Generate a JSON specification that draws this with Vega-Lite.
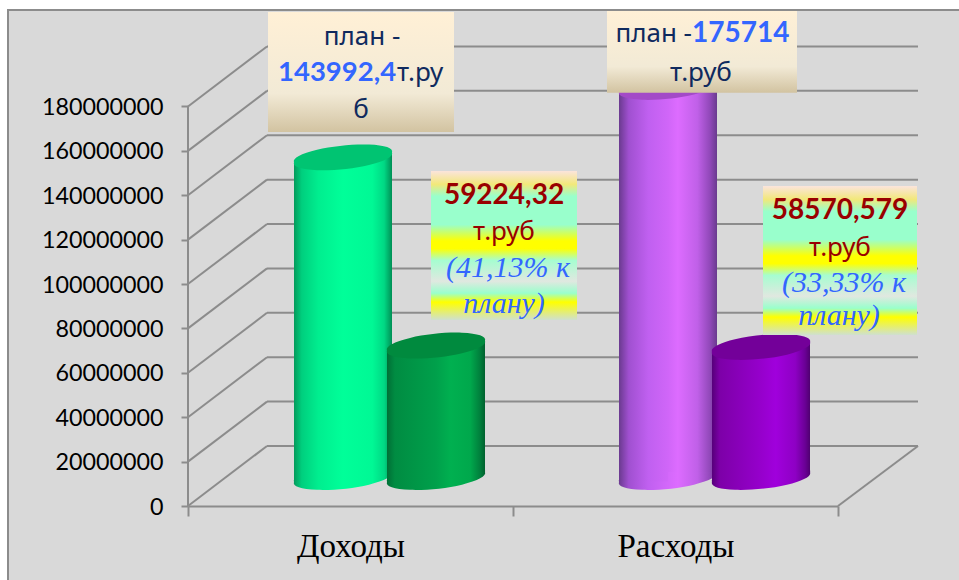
{"$schema":"https://vega.github.io/schema/vega-lite/v6.json","width":650,"height":500,"autosize":"none","padding":{"left":188,"top":6,"right":121,"bottom":74},"background":"#ffffff",
"config":{"view":{"stroke":null},"axisXQuantitative":{"disable":true},"style":{"cell":{"stroke":null}}},
"datasets":{"bars":[{"category":"Доходы","series":"план","value":143992400},{"category":"Доходы","series":"факт","value":59224320},{"category":"Расходы","series":"план","value":175714000},{"category":"Расходы","series":"факт","value":58570579}],
"levels":[{"level":0},{"level":20000000},{"level":40000000},{"level":60000000},{"level":80000000},{"level":100000000},{"level":120000000},{"level":140000000},{"level":160000000},{"level":180000000}]},
"resolve":{"scale":{"x":"independent"}},
"layer":[
{"layer":[
{"data":{"values":[{"part":"panel"}]},"mark":{"type":"rect","fill":"#d9d9d9","stroke":"#8c8c8c","strokeWidth":2},"encoding":{"x":{"datum":-180,"type":"quantitative","scale":{"domain":[0,650],"nice":false,"zero":false}},"x2":{"datum":900},"y":{"datum":223500000,"type":"quantitative","title":null,"scale":{"domain":[0,225250000],"nice":false},"axis":{"values":[0,20000000,40000000,60000000,80000000,100000000,120000000,140000000,160000000,180000000],"title":null,"domain":false,"grid":false,"tickColor":"#8c8c8c","tickWidth":2,"tickSize":7,"labelFont":"Lato","labelFontSize":23.3,"labelColor":"#000000","labelPadding":18,"labelOffset":1,"format":"d","zindex":1}},"y2":{"datum":-50000000}}},
{"data":{"name":"levels"},"mark":{"type":"rule","color":"#8c8c8c","strokeWidth":2,"y2Offset":-60},"encoding":{"x":{"datum":0,"type":"quantitative"},"x2":{"datum":79},"y":{"field":"level","type":"quantitative"},"y2":{"field":"level"}}},
{"data":{"name":"levels"},"mark":{"type":"rule","color":"#8c8c8c","strokeWidth":2,"yOffset":-60},"encoding":{"x":{"datum":79,"type":"quantitative"},"x2":{"datum":730},"y":{"field":"level","type":"quantitative"}}},
{"data":{"values":[{"part":"floor edge"}]},"mark":{"type":"rule","color":"#8c8c8c","strokeWidth":2,"y2Offset":-60},"encoding":{"x":{"datum":650,"type":"quantitative"},"x2":{"datum":730},"y":{"datum":0,"type":"quantitative"},"y2":{"datum":0}}},
{"data":{"values":[{"part":"wall edge"}]},"mark":{"type":"rule","color":"#8c8c8c","strokeWidth":2},"encoding":{"x":{"datum":0,"type":"quantitative"},"y":{"datum":0,"type":"quantitative"},"y2":{"datum":180000000}}}
]},
{"data":{"name":"bars"},"encoding":{"x":{"field":"category","type":"nominal","sort":null,"scale":{"domain":["Доходы","Расходы"],"paddingInner":0,"paddingOuter":0},"axis":{"title":null,"labelAngle":0,"tickBand":"extent","tickColor":"#8c8c8c","tickWidth":2,"tickSize":10,"domainColor":"#8c8c8c","domainWidth":2,"labelFont":"Liberation Serif","labelFontSize":33,"labelColor":"#000000","labelPadding":14,"zindex":1}}},
"layer":[
{"transform":[{"filter":"datum.category==='Доходы' && datum.series==='план'"}],"layer":[
{"mark":{"type":"point","filled":true,"size":9604,"opacity":1,"strokeWidth":0,"xOffset":-7.5,"yOffset":-29,"shape":"M-1,0.1 A1.01,0.22 -6 1 1 1,-0.1 A1.01,0.22 -6 1 1 -1,0.1 Z","fill":{"gradient":"linear","x1":0,"x2":1,"y1":0,"y2":0,"stops":[{"offset":0,"color":"#049a5c"},{"offset":0.08,"color":"#00cf7e"},{"offset":0.25,"color":"#00ee8f"},{"offset":0.5,"color":"#00ff99"},{"offset":0.8,"color":"#00f895"},{"offset":0.92,"color":"#00d884"},{"offset":1,"color":"#008f55"}]}},"encoding":{"y":{"datum":0,"type":"quantitative"}}},
{"mark":{"type":"bar","width":49,"xOffset":-32,"yOffset":-24.5,"y2Offset":-24.5,"fill":{"gradient":"linear","x1":0,"x2":1,"y1":0,"y2":0,"stops":[{"offset":0,"color":"#049a5c"},{"offset":0.16,"color":"#00cf7e"},{"offset":0.5,"color":"#00ee8f"},{"offset":1,"color":"#00ff99"}]}},"encoding":{"y":{"field":"value","type":"quantitative"},"y2":{"datum":0}}},
{"mark":{"type":"bar","width":49,"xOffset":17,"yOffset":-34,"y2Offset":-34,"fill":{"gradient":"linear","x1":0,"x2":1,"y1":0,"y2":0,"stops":[{"offset":0,"color":"#00ff99"},{"offset":0.6,"color":"#00f895"},{"offset":0.84,"color":"#00d884"},{"offset":1,"color":"#008f55"}]}},"encoding":{"y":{"field":"value","type":"quantitative"},"y2":{"datum":0}}},
{"mark":{"type":"point","filled":true,"size":9604,"opacity":1,"strokeWidth":0,"xOffset":-7.5,"yOffset":-29,"shape":"M-1,0.1 A1.01,0.22 -6 1 1 1,-0.1 A1.01,0.22 -6 1 1 -1,0.1 Z","fill":"#00c472"},"encoding":{"y":{"field":"value","type":"quantitative"}}}
]},
{"transform":[{"filter":"datum.category==='Доходы' && datum.series==='факт'"}],"layer":[
{"mark":{"type":"point","filled":true,"size":9604,"opacity":1,"strokeWidth":0,"xOffset":85.5,"yOffset":-29,"shape":"M-1,0.1 A1.01,0.22 -6 1 1 1,-0.1 A1.01,0.22 -6 1 1 -1,0.1 Z","fill":{"gradient":"linear","x1":0,"x2":1,"y1":0,"y2":0,"stops":[{"offset":0,"color":"#006f36"},{"offset":0.08,"color":"#008c42"},{"offset":0.5,"color":"#00a04b"},{"offset":0.65,"color":"#00b050"},{"offset":0.85,"color":"#00a84c"},{"offset":0.95,"color":"#007f3c"},{"offset":1,"color":"#00612e"}]}},"encoding":{"y":{"datum":0,"type":"quantitative"}}},
{"mark":{"type":"bar","width":49,"xOffset":61,"yOffset":-24.5,"y2Offset":-24.5,"fill":{"gradient":"linear","x1":0,"x2":1,"y1":0,"y2":0,"stops":[{"offset":0,"color":"#006f36"},{"offset":0.16,"color":"#008c42"},{"offset":1,"color":"#00a04b"}]}},"encoding":{"y":{"field":"value","type":"quantitative"},"y2":{"datum":0}}},
{"mark":{"type":"bar","width":49,"xOffset":110,"yOffset":-34,"y2Offset":-34,"fill":{"gradient":"linear","x1":0,"x2":1,"y1":0,"y2":0,"stops":[{"offset":0,"color":"#00a04b"},{"offset":0.3,"color":"#00b050"},{"offset":0.7,"color":"#00a84c"},{"offset":0.9,"color":"#007f3c"},{"offset":1,"color":"#00612e"}]}},"encoding":{"y":{"field":"value","type":"quantitative"},"y2":{"datum":0}}},
{"mark":{"type":"point","filled":true,"size":9604,"opacity":1,"strokeWidth":0,"xOffset":85.5,"yOffset":-29,"shape":"M-1,0.1 A1.01,0.22 -6 1 1 1,-0.1 A1.01,0.22 -6 1 1 -1,0.1 Z","fill":"#008a3e"},"encoding":{"y":{"field":"value","type":"quantitative"}}}
]},
{"transform":[{"filter":"datum.category==='Расходы' && datum.series==='план'"}],"layer":[
{"mark":{"type":"point","filled":true,"size":9604,"opacity":1,"strokeWidth":0,"xOffset":-7.5,"yOffset":-29,"shape":"M-1,0.1 A1.01,0.22 -6 1 1 1,-0.1 A1.01,0.22 -6 1 1 -1,0.1 Z","fill":{"gradient":"linear","x1":0,"x2":1,"y1":0,"y2":0,"stops":[{"offset":0,"color":"#6a3a8f"},{"offset":0.1,"color":"#a050d0"},{"offset":0.3,"color":"#c060f0"},{"offset":0.6,"color":"#dd6cff"},{"offset":0.8,"color":"#c060e8"},{"offset":0.93,"color":"#9048b8"},{"offset":1,"color":"#6a3a8f"}]}},"encoding":{"y":{"datum":0,"type":"quantitative"}}},
{"mark":{"type":"bar","width":49,"xOffset":-32,"yOffset":-24.5,"y2Offset":-24.5,"fill":{"gradient":"linear","x1":0,"x2":1,"y1":0,"y2":0,"stops":[{"offset":0,"color":"#6a3a8f"},{"offset":0.2,"color":"#a050d0"},{"offset":0.6,"color":"#c060f0"},{"offset":1,"color":"#d066f8"}]}},"encoding":{"y":{"field":"value","type":"quantitative"},"y2":{"datum":0}}},
{"mark":{"type":"bar","width":49,"xOffset":17,"yOffset":-34,"y2Offset":-34,"fill":{"gradient":"linear","x1":0,"x2":1,"y1":0,"y2":0,"stops":[{"offset":0,"color":"#d066f8"},{"offset":0.2,"color":"#dd6cff"},{"offset":0.6,"color":"#c060e8"},{"offset":0.86,"color":"#9048b8"},{"offset":1,"color":"#6a3a8f"}]}},"encoding":{"y":{"field":"value","type":"quantitative"},"y2":{"datum":0}}},
{"mark":{"type":"point","filled":true,"size":9604,"opacity":1,"strokeWidth":0,"xOffset":-7.5,"yOffset":-29,"shape":"M-1,0.1 A1.01,0.22 -6 1 1 1,-0.1 A1.01,0.22 -6 1 1 -1,0.1 Z","fill":"#a34ac7"},"encoding":{"y":{"field":"value","type":"quantitative"}}}
]},
{"transform":[{"filter":"datum.category==='Расходы' && datum.series==='факт'"}],"layer":[
{"mark":{"type":"point","filled":true,"size":9604,"opacity":1,"strokeWidth":0,"xOffset":85.5,"yOffset":-29,"shape":"M-1,0.1 A1.01,0.22 -6 1 1 1,-0.1 A1.01,0.22 -6 1 1 -1,0.1 Z","fill":{"gradient":"linear","x1":0,"x2":1,"y1":0,"y2":0,"stops":[{"offset":0,"color":"#56007a"},{"offset":0.08,"color":"#7d00a8"},{"offset":0.5,"color":"#9600cc"},{"offset":0.65,"color":"#a000dc"},{"offset":0.85,"color":"#8e00c4"},{"offset":0.95,"color":"#6a0095"},{"offset":1,"color":"#4f0070"}]}},"encoding":{"y":{"datum":0,"type":"quantitative"}}},
{"mark":{"type":"bar","width":49,"xOffset":61,"yOffset":-24.5,"y2Offset":-24.5,"fill":{"gradient":"linear","x1":0,"x2":1,"y1":0,"y2":0,"stops":[{"offset":0,"color":"#56007a"},{"offset":0.16,"color":"#7d00a8"},{"offset":1,"color":"#9600cc"}]}},"encoding":{"y":{"field":"value","type":"quantitative"},"y2":{"datum":0}}},
{"mark":{"type":"bar","width":49,"xOffset":110,"yOffset":-34,"y2Offset":-34,"fill":{"gradient":"linear","x1":0,"x2":1,"y1":0,"y2":0,"stops":[{"offset":0,"color":"#9600cc"},{"offset":0.3,"color":"#a000dc"},{"offset":0.7,"color":"#8e00c4"},{"offset":0.9,"color":"#6a0095"},{"offset":1,"color":"#4f0070"}]}},"encoding":{"y":{"field":"value","type":"quantitative"},"y2":{"datum":0}}},
{"mark":{"type":"point","filled":true,"size":9604,"opacity":1,"strokeWidth":0,"xOffset":85.5,"yOffset":-29,"shape":"M-1,0.1 A1.01,0.22 -6 1 1 1,-0.1 A1.01,0.22 -6 1 1 -1,0.1 Z","fill":"#730099"},"encoding":{"y":{"field":"value","type":"quantitative"}}}
]}
]},
{"layer":[
{"data":{"values":[{"box":"план доходы"}]},"mark":{"type":"rect","fill":{"gradient":"linear","x1":0,"x2":0,"y1":0,"y2":1,"stops":[{"offset":0,"color":"#fff0d6"},{"offset":0.68,"color":"#f2ead6"},{"offset":1,"color":"#d2c3a1"}]}},"encoding":{"x":{"datum":80,"type":"quantitative","scale":{"domain":[0,650],"nice":false,"zero":false}},"x2":{"datum":266},"y":{"datum":222580000,"type":"quantitative"},"y2":{"datum":168510000}}},
{"data":{"values":[{"box":"план расходы"}]},"mark":{"type":"rect","fill":{"gradient":"linear","x1":0,"x2":0,"y1":0,"y2":1,"stops":[{"offset":0,"color":"#fff0d6"},{"offset":0.68,"color":"#f2ead6"},{"offset":1,"color":"#d2c3a1"}]}},"encoding":{"x":{"datum":419,"type":"quantitative"},"x2":{"datum":609},"y":{"datum":223030000,"type":"quantitative"},"y2":{"datum":186220000}}},
{"data":{"values":[{"box":"факт доходы"}]},"mark":{"type":"rect","fill":{"gradient":"linear","x1":0,"x2":0,"y1":0,"y2":1,"stops":[{"offset":0,"color":"#fbe4dc"},{"offset":0.09,"color":"#f2e87a"},{"offset":0.17,"color":"#99ffcc"},{"offset":0.36,"color":"#99ffcc"},{"offset":0.47,"color":"#ffff00"},{"offset":0.52,"color":"#ffff00"},{"offset":0.6,"color":"#a6fdd0"},{"offset":0.74,"color":"#e0e8e0"},{"offset":0.82,"color":"#99ffcc"},{"offset":0.88,"color":"#ffff00"},{"offset":1,"color":"#cfe0cf"}]}},"encoding":{"x":{"datum":243,"type":"quantitative"},"x2":{"datum":389},"y":{"datum":150940000,"type":"quantitative"},"y2":{"datum":83800000}}},
{"data":{"values":[{"box":"факт расходы"}]},"mark":{"type":"rect","fill":{"gradient":"linear","x1":0,"x2":0,"y1":0,"y2":1,"stops":[{"offset":0,"color":"#fbe4dc"},{"offset":0.09,"color":"#f2e87a"},{"offset":0.17,"color":"#99ffcc"},{"offset":0.36,"color":"#99ffcc"},{"offset":0.47,"color":"#ffff00"},{"offset":0.52,"color":"#ffff00"},{"offset":0.6,"color":"#a6fdd0"},{"offset":0.74,"color":"#e0e8e0"},{"offset":0.82,"color":"#99ffcc"},{"offset":0.88,"color":"#ffff00"},{"offset":1,"color":"#cfe0cf"}]}},"encoding":{"x":{"datum":575,"type":"quantitative"},"x2":{"datum":729},"y":{"datum":144180000,"type":"quantitative"},"y2":{"datum":77050000}}},
{"data":{"values":[{"t":"план -"}]},"mark":{"type":"text","font":"Noto Sans","fontSize":26,"color":"#0f2a5e"},"encoding":{"text":{"field":"t"},"x":{"datum":174,"type":"quantitative"},"y":{"datum":211310000,"type":"quantitative"}}},
{"data":{"values":[{"t":"143992,4"}]},"mark":{"type":"text","font":"Lato","fontWeight":"bold","fontSize":27.5,"color":"#3366ff","align":"left"},"encoding":{"text":{"field":"t"},"x":{"datum":90,"type":"quantitative"},"y":{"datum":195090000,"type":"quantitative"}}},
{"data":{"values":[{"t":"т.ру"}]},"mark":{"type":"text","font":"Noto Sans","fontSize":26,"color":"#0f2a5e","align":"left"},"encoding":{"text":{"field":"t"},"x":{"datum":209,"type":"quantitative"},"y":{"datum":195090000,"type":"quantitative"}}},
{"data":{"values":[{"t":"б"}]},"mark":{"type":"text","font":"Noto Sans","fontSize":26,"color":"#0f2a5e"},"encoding":{"text":{"field":"t"},"x":{"datum":173,"type":"quantitative"},"y":{"datum":178420000,"type":"quantitative"}}},
{"data":{"values":[{"t":"59224,32"}]},"mark":{"type":"text","font":"Lato","fontWeight":"bold","fontSize":28,"color":"#990000"},"encoding":{"text":{"field":"t"},"x":{"datum":316,"type":"quantitative"},"y":{"datum":139670000,"type":"quantitative"}}},
{"data":{"values":[{"t":"т.руб"}]},"mark":{"type":"text","font":"Noto Sans","fontSize":26,"color":"#990000"},"encoding":{"text":{"field":"t"},"x":{"datum":316,"type":"quantitative"},"y":{"datum":123450000,"type":"quantitative"}}},
{"data":{"values":[{"t":"(41,13% к"}]},"mark":{"type":"text","font":"Liberation Serif","fontStyle":"italic","fontSize":30,"color":"#3366ff"},"encoding":{"text":{"field":"t"},"x":{"datum":320,"type":"quantitative"},"y":{"datum":107230000,"type":"quantitative"}}},
{"data":{"values":[{"t":"плану)"}]},"mark":{"type":"text","font":"Liberation Serif","fontStyle":"italic","fontSize":30,"color":"#3366ff"},"encoding":{"text":{"field":"t"},"x":{"datum":316,"type":"quantitative"},"y":{"datum":91010000,"type":"quantitative"}}},
{"data":{"values":[{"t":"план -"}]},"mark":{"type":"text","font":"Noto Sans","fontSize":26,"color":"#0f2a5e","align":"right"},"encoding":{"text":{"field":"t"},"x":{"datum":504,"type":"quantitative"},"y":{"datum":212670000,"type":"quantitative"}}},
{"data":{"values":[{"t":"175714"}]},"mark":{"type":"text","font":"Lato","fontWeight":"bold","fontSize":28,"color":"#3366ff","align":"left"},"encoding":{"text":{"field":"t"},"x":{"datum":504,"type":"quantitative"},"y":{"datum":212670000,"type":"quantitative"}}},
{"data":{"values":[{"t":"т.руб"}]},"mark":{"type":"text","font":"Noto Sans","fontSize":26,"color":"#0f2a5e"},"encoding":{"text":{"field":"t"},"x":{"datum":513,"type":"quantitative"},"y":{"datum":195090000,"type":"quantitative"}}},
{"data":{"values":[{"t":"58570,579"}]},"mark":{"type":"text","font":"Lato","fontWeight":"bold","fontSize":28,"color":"#990000"},"encoding":{"text":{"field":"t"},"x":{"datum":652,"type":"quantitative"},"y":{"datum":132920000,"type":"quantitative"}}},
{"data":{"values":[{"t":"т.руб"}]},"mark":{"type":"text","font":"Noto Sans","fontSize":26,"color":"#990000"},"encoding":{"text":{"field":"t"},"x":{"datum":652,"type":"quantitative"},"y":{"datum":116250000,"type":"quantitative"}}},
{"data":{"values":[{"t":"(33,33% к"}]},"mark":{"type":"text","font":"Liberation Serif","fontStyle":"italic","fontSize":30,"color":"#3366ff"},"encoding":{"text":{"field":"t"},"x":{"datum":656,"type":"quantitative"},"y":{"datum":100480000,"type":"quantitative"}}},
{"data":{"values":[{"t":"плану)"}]},"mark":{"type":"text","font":"Liberation Serif","fontStyle":"italic","fontSize":30,"color":"#3366ff"},"encoding":{"text":{"field":"t"},"x":{"datum":651,"type":"quantitative"},"y":{"datum":85610000,"type":"quantitative"}}}
]}
]}
